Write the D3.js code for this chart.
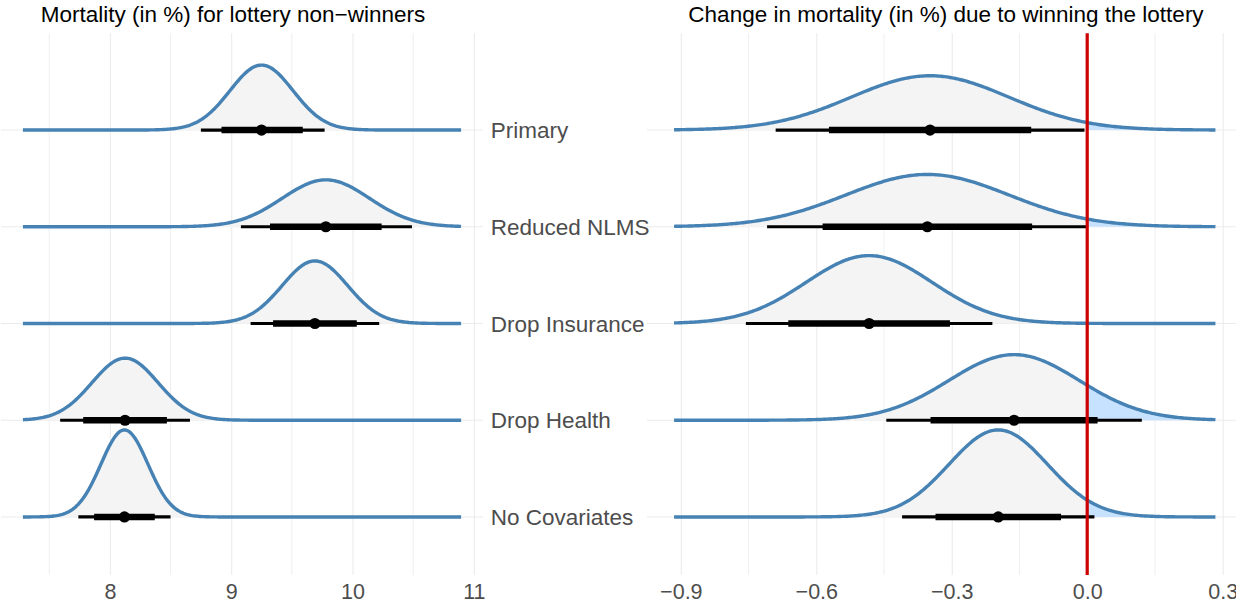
<!DOCTYPE html>
<html>
<head>
<meta charset="utf-8">
<script src="https://cdn.jsdelivr.net/npm/d3@7"></script>
<style>
  body { margin: 0; background: #fff; }
  text { font-family: "Liberation Sans", Arial, sans-serif; }
</style>
</head>
<body>
<div id="chart-area"></div>
<script>
var W = 1236, H = 605;

// rows, top to bottom
var rows = ["Primary", "Reduced NLMS", "Drop Insurance", "Drop Health", "No Covariates"];

// left panel: mortality (in %) for lottery non-winners
var baseMean = [9.25, 9.78, 9.69, 8.125, 8.12];
var baseSd   = [0.26, 0.36, 0.27, 0.272, 0.194];
var baseLo95 = [8.75, 9.08, 9.16, 7.59, 7.74];
var baseLo80 = [8.92, 9.32, 9.345, 7.78, 7.87];
var baseHi80 = [9.59, 10.24, 10.035, 8.47, 8.37];
var baseHi95 = [9.77, 10.49, 10.22, 8.66, 8.50];

// right panel: change in mortality (in %) due to winning
var effMean = [-0.348, -0.354, -0.483, -0.162, -0.197];
var effSd   = [0.1745, 0.181, 0.1395, 0.1444, 0.1088];
var effLo95 = [-0.690, -0.709, -0.756, -0.445, -0.410];
var effLo80 = [-0.572, -0.586, -0.662, -0.347, -0.336];
var effHi80 = [-0.124, -0.122, -0.304, 0.023, -0.058];
var effHi95 = [-0.006, 0.000, -0.210, 0.121, 0.016];

// axis ticks and slab ranges
var baseTicks = [8, 9, 10, 11];
var baseMinor = [7.5, 8.5, 9.5, 10.5];
var effTicks = [-0.9, -0.6, -0.3, 0, 0.3];
var effMinor = [-0.75, -0.45, -0.15, 0.15];
var baseRange = [7.283, 10.895];
var effRange = [-0.915, 0.284];

var titles = ["Mortality (in %) for lottery non\u2212winners",
              "Change in mortality (in %) due to winning the lottery"];

var panelTop = 33.3, panelBottom = 575;
var step = (panelBottom - panelTop) / 5.6;

var svg = d3.select("#chart-area").append("svg")
    .attr("width", W)
    .attr("height", H);

var y = d3.scalePoint()
  .domain(rows)
  .range([panelTop + step, panelBottom - 0.6 * step]);

function pad(r) {
  var e = (r[1] - r[0]) * 0.05;
  return [r[0] - e, r[1] + e];
}

var panels = [
  {
    x: d3.scaleLinear().domain(pad(baseRange)).range([1, 483]),
    mean: baseMean, sd: baseSd, lo95: baseLo95, lo80: baseLo80, hi80: baseHi80, hi95: baseHi95,
    ticks: baseTicks, minor: baseMinor, range: baseRange, fmt: d3.format("d"),
    title: titles[0], titleX: 233, ref: null
  },
  {
    x: d3.scaleLinear().domain(pad(effRange)).range([647, 1242.5]),
    mean: effMean, sd: effSd, lo95: effLo95, lo80: effLo80, hi80: effHi80, hi95: effHi95,
    ticks: effTicks, minor: effMinor, range: effRange, fmt: d3.format(".1f"),
    title: titles[1], titleX: 946, ref: 0
  }
];

// normal density of the plotted distribution
function dnorm(v, m, s) {
  var z = (v - m) / s;
  return Math.exp(-0.5 * z * z) / (s * Math.sqrt(2 * Math.PI));
}

panels.forEach(function(p) {
  var x = p.x;
  var g = svg.append("g");

  // minor + major grid
  g.append("g").selectAll("line")
    .data(p.minor)
    .enter().append("line")
      .attr("x1", d => x(d)).attr("x2", d => x(d))
      .attr("y1", panelTop).attr("y2", panelBottom)
      .attr("stroke", "#ebebeb").attr("stroke-width", 0.8);

  var gridAxis = d3.axisBottom(x).tickValues(p.ticks).tickSize(-(panelBottom - panelTop)).tickFormat("");
  var grid = g.append("g")
    .attr("transform", "translate(0," + panelBottom + ")")
    .call(gridAxis);
  grid.select(".domain").remove();
  grid.selectAll("line").attr("stroke", "#ebebeb").attr("stroke-width", 1.1);

  g.append("g").selectAll("line")
    .data(rows)
    .enter().append("line")
      .attr("x1", x.range()[0]).attr("x2", x.range()[1])
      .attr("y1", d => y(d)).attr("y2", d => y(d))
      .attr("stroke", "#ebebeb").attr("stroke-width", 1.1);

  // x labels
  var labAxis = d3.axisBottom(x).tickValues(p.ticks).tickSize(0).tickPadding(0).tickFormat(p.fmt);
  var lab = g.append("g")
    .attr("transform", "translate(0," + panelBottom + ")")
    .call(labAxis);
  lab.select(".domain").remove();
  lab.selectAll("text")
    .attr("y", 24)
    .attr("dy", 0)
    .attr("font-size", "21.5px")
    .attr("font-family", "Liberation Sans, Arial, sans-serif")
    .attr("fill", "#4d4d4d");

  // title
  svg.append("text")
    .attr("x", p.titleX)
    .attr("y", 21.7)
    .attr("text-anchor", "middle")
    .attr("font-size", "22.5px")
    .attr("fill", "#000")
    .text(p.title);

  // slabs
  var peak = d3.max(p.sd, s => dnorm(0, 0, s));
  var h = d3.scaleLinear().domain([0, peak]).range([0, 0.9 * step]);
  var n = 300;
  var xs = d3.range(n + 1).map(i => p.range[0] + (p.range[1] - p.range[0]) * i / n);
  if (p.ref !== null) { xs.push(p.ref); xs.sort(d3.ascending); }

  rows.forEach(function(r, i) {
    var yy = y(r);
    var pts = xs.map(v => [v, dnorm(v, p.mean[i], p.sd[i])]);
    var area = d3.area()
      .x(d => x(d[0]))
      .y0(yy)
      .y1(d => yy - h(d[1]));
    if (p.ref !== null) {
      g.append("path").attr("d", area(pts.filter(d => d[0] <= p.ref))).attr("fill", "#f4f4f4");
      g.append("path").attr("d", area(pts.filter(d => d[0] >= p.ref))).attr("fill", "#c6e2ff");
    } else {
      g.append("path").attr("d", area(pts)).attr("fill", "#f4f4f4");
    }
    var line = d3.line()
      .x(d => x(d[0]))
      .y(d => yy - h(d[1]));
    g.append("path")
      .attr("d", line(pts))
      .attr("fill", "none")
      .attr("stroke", "steelblue")
      .attr("stroke-width", 3.4);

    // intervals
    g.append("line")
      .attr("x1", x(p.lo95[i])).attr("x2", x(p.hi95[i]))
      .attr("y1", yy).attr("y2", yy)
      .attr("stroke", "#000").attr("stroke-width", 3.2);
    g.append("line")
      .attr("x1", x(p.lo80[i])).attr("x2", x(p.hi80[i]))
      .attr("y1", yy).attr("y2", yy)
      .attr("stroke", "#000").attr("stroke-width", 6.4);
    g.append("circle")
      .attr("cx", x(p.mean[i])).attr("cy", yy)
      .attr("r", 5.6)
      .attr("fill", "#000");
  });

  if (p.ref !== null) {
    g.append("line")
      .attr("x1", x(p.ref)).attr("x2", x(p.ref))
      .attr("y1", panelTop).attr("y2", panelBottom)
      .attr("stroke", "#cd0000").attr("stroke-width", 3.2);
  }
});

// row labels between the panels
svg.append("g").selectAll("text")
  .data(rows)
  .enter().append("text")
    .attr("x", 490.7)
    .attr("y", d => y(d))
    .attr("dy", "0.36em")
    .attr("font-size", "22.5px")
    .attr("fill", "#4d4d4d")
    .text(d => d);
</script>
</body>
</html>
